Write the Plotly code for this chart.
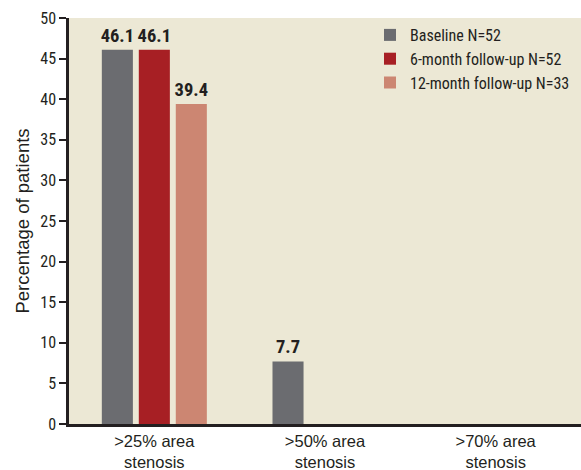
import plotly.graph_objects as go

categories = [">25% area<br>stenosis", ">50% area<br>stenosis", ">70% area<br>stenosis"]
series_names = ["Baseline N=52", "6-month follow-up N=52", "12-month follow-up N=33"]
baseline = [46.1, 7.7, 0]
month6 = [46.1, 0, 0]
month12 = [39.4, 0, 0]
y_ticks = [0, 5, 10, 15, 20, 25, 30, 35, 40, 45, 50]

colors = ["#6B6C70", "#A71F24", "#CC8672"]
narrow = "Roboto Condensed, Liberation Sans Narrow, DejaVu Sans Condensed, sans-serif"
regular = "Liberation Sans, Arial, sans-serif"
ink = "#231F20"

fig = go.Figure()
for name, vals, col in zip(series_names, [baseline, month6, month12], colors):
    fig.add_trace(go.Bar(
        x=categories, y=vals, name=name,
        marker=dict(color=col, line=dict(width=0)),
        text=[f"<b>{v:.1f}</b>" if v > 0 else "" for v in vals],
        textposition="outside", cliponaxis=False, constraintext="none",
        textfont=dict(family=narrow, size=18.5, color=ink),
    ))

fig.update_layout(
    width=581, height=470,
    margin=dict(l=69, r=0, t=18, b=46, autoexpand=False),
    paper_bgcolor="white", plot_bgcolor="#ECE8D5",
    barmode="group", bargap=0.35, bargroupgap=0.16,
    showlegend=True,
    legend=dict(x=(370 - 69) / 512, y=1.0, xanchor="left", yanchor="top",
                bgcolor="rgba(0,0,0,0)", font=dict(family=narrow, size=16, color=ink),
                itemwidth=30, borderwidth=0),
    font=dict(family=narrow, color=ink),
)
fig.update_yaxes(
    range=[0, 50], tickvals=y_ticks, showgrid=False, zeroline=False,
    showline=True, linecolor=ink, linewidth=2.5,
    ticks="outside", ticklen=7, tickwidth=1.5, tickcolor=ink,
    tickfont=dict(family=narrow, size=16, color=ink),
    title=dict(text="Percentage of patients", font=dict(family=regular, size=18.5, color=ink), standoff=6),
)
fig.update_xaxes(
    showline=True, linecolor=ink, linewidth=2.5, showgrid=False,
    ticks="", tickfont=dict(family=regular, size=16.5, color=ink),
)

fig.write_html("out.html")
